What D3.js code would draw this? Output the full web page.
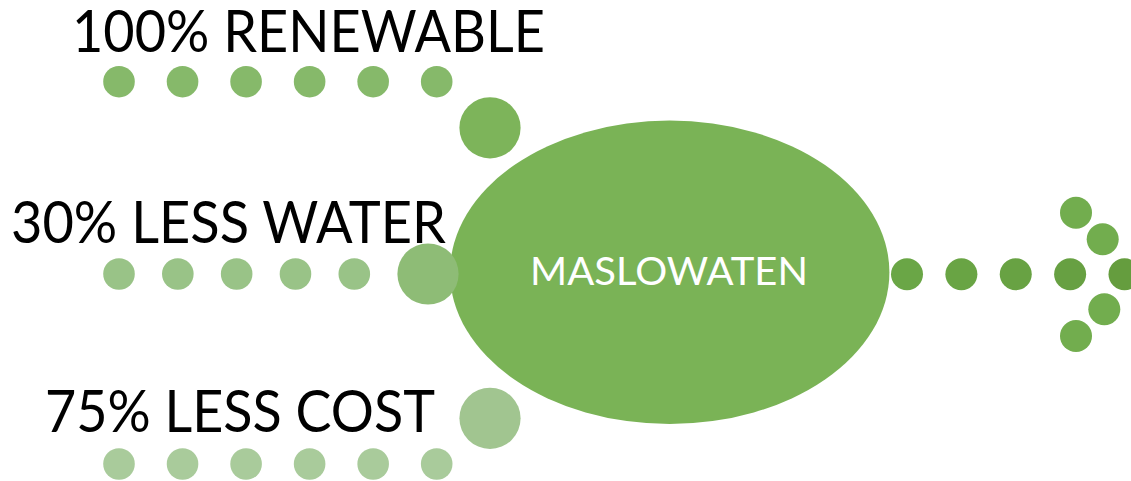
<!DOCTYPE html>
<html>
<head>
<meta charset="utf-8">
<script src="https://cdn.jsdelivr.net/npm/d3@7/dist/d3.min.js"></script>
<style>
  html, body { margin: 0; padding: 0; background: #ffffff; }
  svg { display: block; }
</style>
</head>
<body>
<svg id="chart" width="1131" height="481"></svg>
<script>
// ---- data ----
const labels = ["100% RENEWABLE", "30% LESS WATER", "75% LESS COST"];
const dotCounts = [6, 5, 6];
const centerLabel = "MASLOWATEN";
const outputDots = 5;
const arrowDots = ["upper-outer", "upper-inner", "lower-inner", "lower-outer"];

// ---- styles / layout ----
const W = 1131, H = 481;
const svg = d3.select("#chart");
const font = "Lato, 'Open Sans', 'DejaVu Sans', sans-serif";

const rowStyle = [
  { y: 81.7, x0: 119, x1: 436.7, big: [490, 127.8], small: "#86b96a", bigc: "#7db45a",
    tx: 72, ty: 51.6, tw: 473 },
  { y: 274, x0: 119, x1: 354.3, big: [428, 274], small: "#99c387", bigc: "#8ebc76",
    tx: 11, ty: 242.7, tw: 435 },
  { y: 464, x0: 119, x1: 436.7, big: [490, 418.3], small: "#a9cb9b", bigc: "#a1c590",
    tx: 45, ty: 431.7, tw: 390 }
];

// rows of dots via scales
labels.forEach((lab, i) => {
  const s = rowStyle[i];
  const x = d3.scaleLinear().domain([0, dotCounts[i] - 1]).range([s.x0, s.x1]);
  svg.append("g").selectAll("circle")
    .data(d3.range(dotCounts[i]))
    .join("circle")
    .attr("cx", d => x(d))
    .attr("cy", s.y)
    .attr("r", 15.8)
    .attr("fill", s.small);
});

// central ellipse
svg.append("ellipse")
  .attr("cx", 669.7).attr("cy", 272.3)
  .attr("rx", 219.7).attr("ry", 151.7)
  .attr("fill", "#7ab356");

// big connector circles
labels.forEach((lab, i) => {
  const s = rowStyle[i];
  svg.append("circle")
    .attr("cx", s.big[0]).attr("cy", s.big[1])
    .attr("r", 30.6)
    .attr("fill", s.bigc);
});

// labels
labels.forEach((lab, i) => {
  const s = rowStyle[i];
  svg.append("text")
    .attr("x", s.tx).attr("y", s.ty)
    .attr("font-family", font)
    .attr("font-size", 58)
    .attr("fill", "#000000")
    .attr("textLength", s.tw)
    .attr("lengthAdjust", "spacingAndGlyphs")
    .text(lab);
});

// center label
svg.append("text")
  .attr("x", 669).attr("y", 285)
  .attr("text-anchor", "middle")
  .attr("font-family", font)
  .attr("font-size", 39)
  .attr("fill", "#ffffff")
  .attr("textLength", 278)
  .attr("lengthAdjust", "spacingAndGlyphs")
  .text(centerLabel);

// output dots to the right
const ox = d3.scaleLinear().domain([0, outputDots - 1]).range([907, 1124.5]);
const outColors = ["#6aa646", "#69a444", "#68a243", "#67a042", "#659d3e"];
svg.append("g").selectAll("circle")
  .data(d3.range(outputDots))
  .join("circle")
  .attr("cx", d => ox(d))
  .attr("cy", 274.3)
  .attr("r", 16)
  .attr("fill", d => outColors[d]);

// arrow head dots
const arrowPos = {
  "upper-outer": [1076, 212.7],
  "upper-inner": [1102.7, 239.3],
  "lower-inner": [1104.3, 309.3],
  "lower-outer": [1076, 336]
};
svg.append("g").selectAll("circle")
  .data(arrowDots)
  .join("circle")
  .attr("cx", d => arrowPos[d][0])
  .attr("cy", d => arrowPos[d][1])
  .attr("r", 16)
  .attr("fill", "#72ad4e");
</script>
</body>
</html>
